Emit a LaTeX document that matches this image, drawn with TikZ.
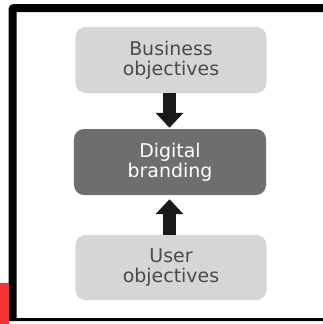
\documentclass[tikz,border=0pt]{standalone}
\usepackage{fontspec}
\setmainfont{DejaVu Sans}
\usetikzlibrary{arrows.meta}
\definecolor{lightbox}{HTML}{D6D6D6}
\definecolor{darkbox}{HTML}{6E6E6E}
\definecolor{lighttext}{HTML}{4A4A4A}
\definecolor{redpatch}{HTML}{F23535}
\begin{document}
\begin{tikzpicture}[x=1bp,y=-1bp,
  box/.style={rounded corners=10bp, minimum width=191bp, minimum height=66bp,
    inner sep=0pt, align=center, font=\fontsize{19}{20}\selectfont},
  lightnode/.style={box, fill=lightbox, text=lighttext},
  darknode/.style={box, fill=darkbox, text=white},
  bigarrow/.style={-{Triangle[width=27bp,length=15bp]}, line width=13bp, draw=black!90}
]
\useasboundingbox (0,0) rectangle (323,324);
\fill[white] (0,0) rectangle (323,324);
% frame
\fill[black] (8.5,321) [rounded corners=5bp] -- (8.5,4) [sharp corners] -- (323,4) -- (323,12) -- (16.5,12) -- (16.5,318) -- (323,318) -- (323,321) -- cycle;
\fill[redpatch] (0,283) rectangle (8.5,324);
% boxes
\node[lightnode] (biz) at (171,60) {Business\\objectives};
\node[darknode, minimum width=192bp] (dig) at (170,162) {Digital\\branding};
\node[lightnode, minimum height=65bp] (usr) at (171,267.5) {User\\objectives};
% arrows
\draw[bigarrow, shorten >=1bp] (biz.south -| 169.5,0) -- (dig.north -| 169.5,0);
\draw[bigarrow, shorten >=4bp] (usr.north -| 169.5,0) -- (dig.south -| 169.5,0);
\end{tikzpicture}
\end{document}
